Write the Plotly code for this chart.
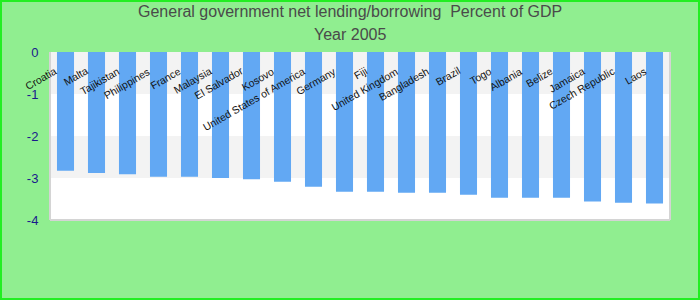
import plotly.graph_objects as go

countries = ["Croatia", "Malta", "Tajikistan", "Philippines", "France", "Malaysia",
             "El Salvador", "Kosovo", "United States of America", "Germany", "Fiji",
             "United Kingdom", "Bangladesh", "Brazil", "Togo", "Albania", "Belize",
             "Jamaica", "Czech Republic", "Laos"]
values = [-2.83, -2.88, -2.91, -2.97, -2.97, -3.00, -3.03, -3.09, -3.21, -3.33, -3.33,
          -3.35, -3.35, -3.40, -3.47, -3.47, -3.47, -3.56, -3.59, -3.61]
y_ticks = [0, -1, -2, -3, -4]
title_line1 = "General government net lending/borrowing  Percent of GDP"
title_line2 = "Year 2005"

L, R, T, B = 50, 30, 52, 80
W, H = 700, 300
pw, ph = W - L - R, H - T - B

x = list(range(len(countries)))
fig = go.Figure()
fig.add_trace(go.Bar(x=x, y=values, marker_color="#62a8f3", marker_line_width=0,
                     width=0.55, hoverinfo="text", hovertext=countries))

shapes = []
# alternating bands
for y0, y1 in [(0, -1), (-2, -3)]:
    shapes.append(dict(type="rect", xref="paper", yref="y", x0=0, x1=1, y0=y0, y1=y1,
                       fillcolor="#f3f3f3", line_width=0, layer="below"))
# plot frame (left, bottom, right)
for sx0, sy0, sx1, sy1 in [(0, 0, 0, 1), (0, 0, 1, 0), (1, 0, 1, 1)]:
    shapes.append(dict(type="line", xref="paper", yref="paper", x0=sx0, y0=sy0, x1=sx1, y1=sy1,
                       line=dict(color="#d4d4d4", width=2)))
# outer green border
shapes.append(dict(type="rect", xref="paper", yref="paper",
                   x0=(-L + 1) / pw, x1=(W - L - 1) / pw,
                   y0=(-B + 1) / ph, y1=(ph + T - 1) / ph,
                   line=dict(color="#22ee22", width=2), fillcolor="rgba(0,0,0,0)"))

annotations = [
    dict(text=title_line1, xref="paper", yref="paper", x=(350 - L) / pw, y=(ph + T - 12) / ph,
         xanchor="center", yanchor="middle", showarrow=False,
         font=dict(family="Liberation Sans, Arial", size=16, color="#4a4a4a")),
    dict(text=title_line2, xref="paper", yref="paper", x=(350 - L) / pw, y=(ph + T - 35) / ph,
         xanchor="center", yanchor="middle", showarrow=False,
         font=dict(family="Liberation Sans, Arial", size=16, color="#4a4a4a")),
]
for i, c in enumerate(countries):
    annotations.append(dict(text=c, x=i - 0.12, y=0, xref="x", yref="y", xanchor="right",
                            yanchor="top", yshift=-10, textangle=-30, showarrow=False,
                            font=dict(family="Liberation Sans, Arial", size=10.5, color="#111")))

fig.update_layout(
    width=W, height=H, margin=dict(l=L, r=R, t=T, b=B),
    paper_bgcolor="#90ee90", plot_bgcolor="white",
    showlegend=False, shapes=shapes, annotations=annotations,
    xaxis=dict(range=[-0.5, len(countries) - 0.5], showticklabels=False, showgrid=False,
               zeroline=False, showline=False, fixedrange=True),
    yaxis=dict(range=[-4, 0], tickvals=y_ticks, ticktext=[str(v) for v in y_ticks],
               showgrid=False, zeroline=False, showline=False, ticks="outside",
               ticklen=8, tickcolor="rgba(0,0,0,0)",
               tickfont=dict(family="Liberation Sans, Arial", size=13, color="#1a1a8c"),
               fixedrange=True),
)
fig.write_html("out.html")
